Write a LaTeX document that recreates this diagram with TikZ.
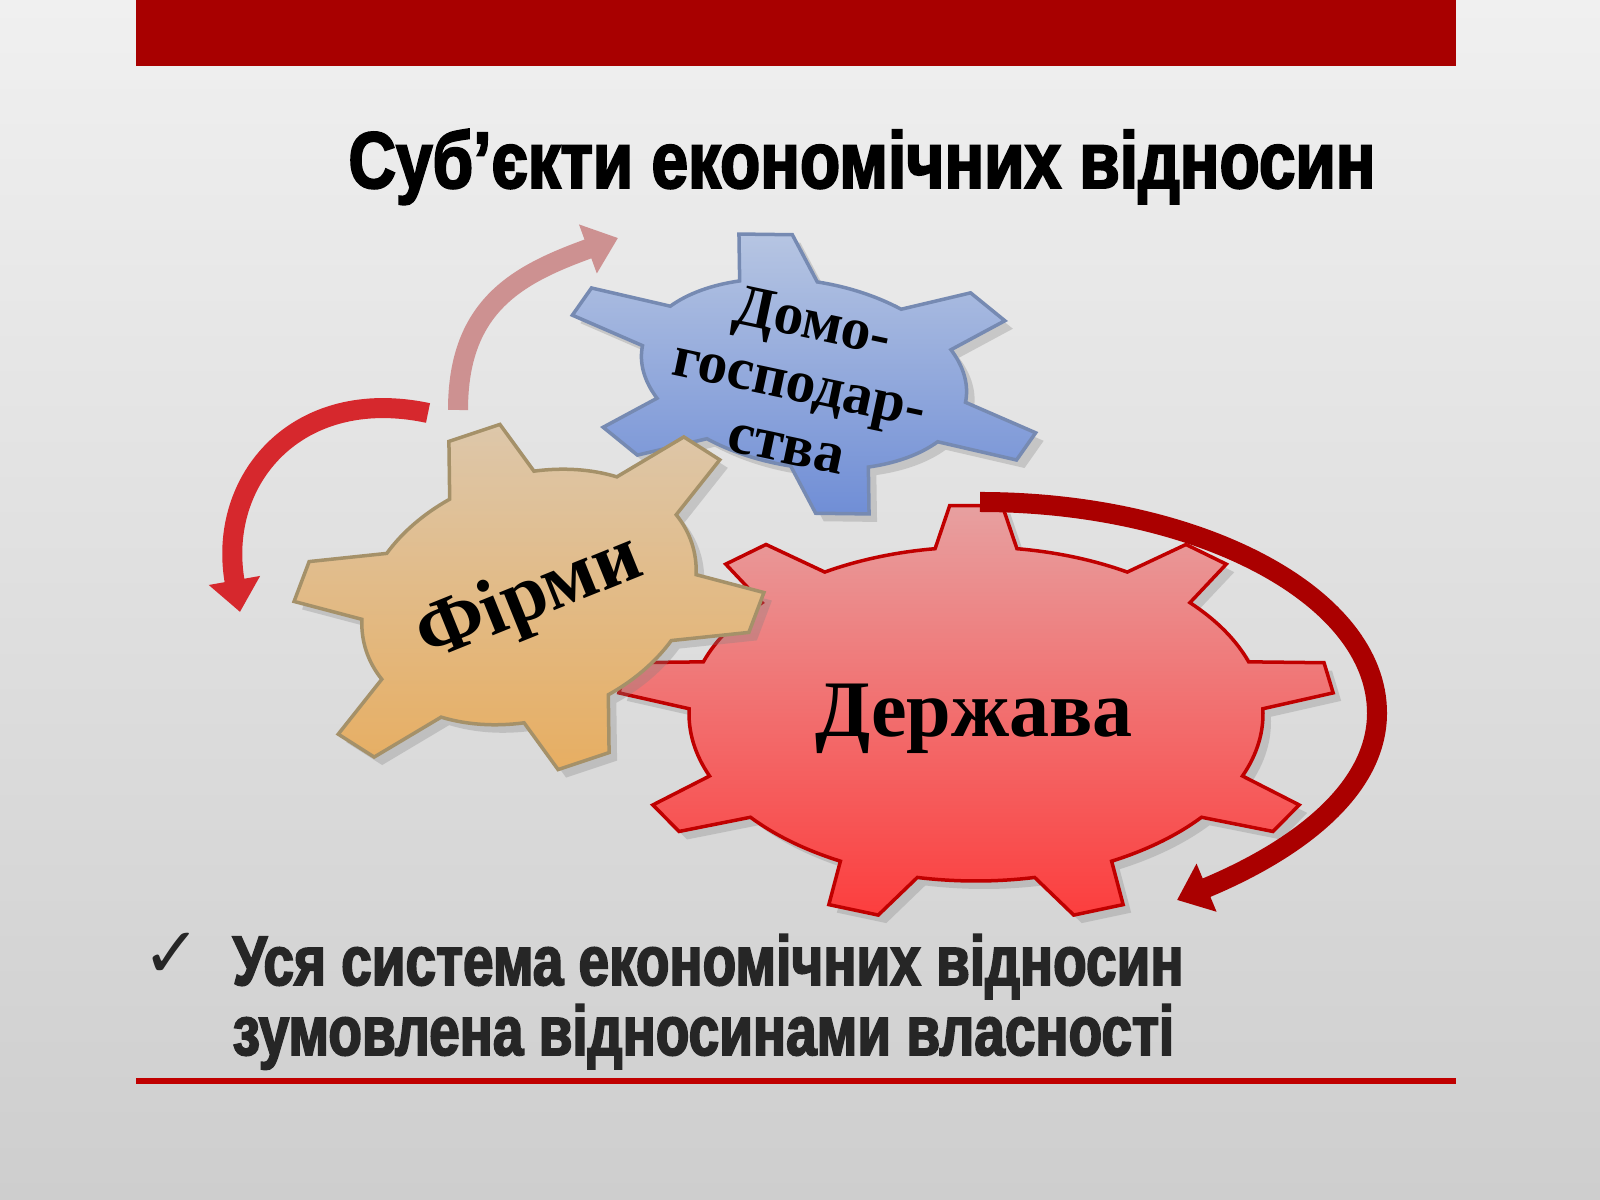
\documentclass[tikz,border=0pt]{standalone}
\usepackage{fontspec}
\setmainfont{Liberation Serif}
\newfontfamily\impactfont[FakeStretch=0.82,FakeBold=2.5]{Liberation Sans Bold}
\newfontfamily\bulletfont[FakeStretch=0.785,FakeBold=2.5]{Liberation Sans Bold}
\newfontfamily\symbolfont{DejaVu Sans}
\usetikzlibrary{arrows.meta,shadows}

\definecolor{bgtop}{RGB}{240,240,240}
\definecolor{bgbottom}{RGB}{206,206,206}
\definecolor{barred}{RGB}{168,0,0}
\definecolor{linered}{RGB}{192,0,0}
\definecolor{textgray}{RGB}{38,38,38}
\definecolor{arrowpink}{RGB}{205,145,145}
\definecolor{arrowred}{RGB}{214,40,45}
\definecolor{arrowdark}{RGB}{170,0,0}
\definecolor{bluetop}{RGB}{182,197,226}
\definecolor{bluebottom}{RGB}{112,142,214}
\definecolor{blueline}{RGB}{118,138,178}
\definecolor{orangetop}{RGB}{221,199,170}
\definecolor{orangebottom}{RGB}{231,174,98}
\definecolor{orangeline}{RGB}{165,145,105}
\definecolor{redtop}{RGB}{231,160,160}
\definecolor{redbottom}{RGB}{252,62,62}
\definecolor{redline}{RGB}{192,0,0}

% teeth, first tooth, outer a, outer b, inner a, inner b, base half-angle, tip half-angle
\newcommand{\gearpath}[8]{({#2+#7}:#5 and #6)
  \foreach \i in {1,...,#1}{
    arc[start angle={#2+(\i-1)*360/#1+#7}, end angle={#2+\i*360/#1-#7}, x radius=#5, y radius=#6]
    -- ({#2+\i*360/#1-#8}:#3 and #4)
    -- ({#2+\i*360/#1+#8}:#3 and #4)
    -- ({#2+\i*360/#1+#7}:#5 and #6)
  } -- cycle}

\begin{document}
\begin{tikzpicture}[x=0.01cm, y=0.01cm,
    gear/.style={line width=0.35mm, drop shadow={opacity=0.3, shadow xshift=0.8mm, shadow yshift=-0.8mm}},
    gearblue/.style={gear, draw=blueline, top color=bluetop, bottom color=bluebottom},
    gearorange/.style={gear, draw=orangeline, top color=orangetop, bottom color=orangebottom},
    gearred/.style={gear, draw=redline, top color=redtop, bottom color=redbottom},
    bendarrow/.style={line width=2mm, -{Triangle[length=3.2mm, width=5mm]}},
    label/.style={inner sep=0pt, font=\bfseries\fontsize{22.8}{24}\selectfont},
    bigtext/.style={inner sep=0pt, text=textgray, font=\bulletfont\fontsize{19.9}{19.9}\selectfont}]
    \useasboundingbox (0,0) rectangle (1600,1200);
    \shade[top color=bgtop, bottom color=bgbottom] (0,0) rectangle (1600,1200);
    \fill[barred] (136,1134) rectangle (1456,1200);
    \draw[linered, line width=0.6mm] (136,119) -- (1456,119);

    \node (title) at (862,1012) [anchor=base, inner sep=0pt, font=\impactfont\fontsize{22.8}{24}\selectfont] {Суб’єкти економічних відносин};

    \begin{scope}[shift={(804,826)}, rotate=-9.1]
        \path[gearblue] \gearpath{6}{-15.5}{241}{137}{164}{93}{14}{6.5};
    \end{scope}
    \begin{scope}[shift={(976,486)}]
        \path[gearred] \gearpath{9}{90}{359}{209}{287}{167}{8.2}{4.2};
    \end{scope}
    \begin{scope}[shift={(529,603)}, rotate=18.4]
        \path[gearorange] \gearpath{6}{-30}{245}{174}{171.5}{122}{15}{6.3};
    \end{scope}

    \node (house) at (800,818) [rotate=-12, align=center, inner sep=0pt, font=\bfseries\fontsize{16.9}{18}\selectfont] {Домо-\\господар-\\ства};
    \node (firms) at (530,600) [label, rotate=22] {Фірми};
    \node (state) at (974,463) [label, anchor=base] {Держава};

    \coordinate (p1) at (458,790);
    \coordinate (p2) at (618,962);
    \coordinate (r1) at (428,787);
    \coordinate (r2) at (240,588);
    \coordinate (d1) at (980,698);
    \coordinate (d2) at (1377,487);
    \coordinate (d3) at (1177,300);

    \draw[bendarrow, arrowpink] (p1) to[out=90, in=200, looseness=1.15] (p2);
    \draw[bendarrow, arrowred] (r1) to[out=168, in=100, looseness=1.25] (r2);
    \draw[bendarrow, arrowdark] (d1) .. controls +(219,0) and +(0,117) .. (d2) .. controls +(0,-77) and +(120,50) .. (d3);

    \node (check) at (172,245) [inner sep=0pt, text=textgray, font=\symbolfont\fontsize{20}{20}\selectfont] {✓};
    \node (line1) at (232,215) [bigtext, anchor=base west] {Уся система економічних відносин};
    \node (line2) at (232,145) [bigtext, anchor=base west] {зумовлена відносинами власності};
\end{tikzpicture}
\end{document}
